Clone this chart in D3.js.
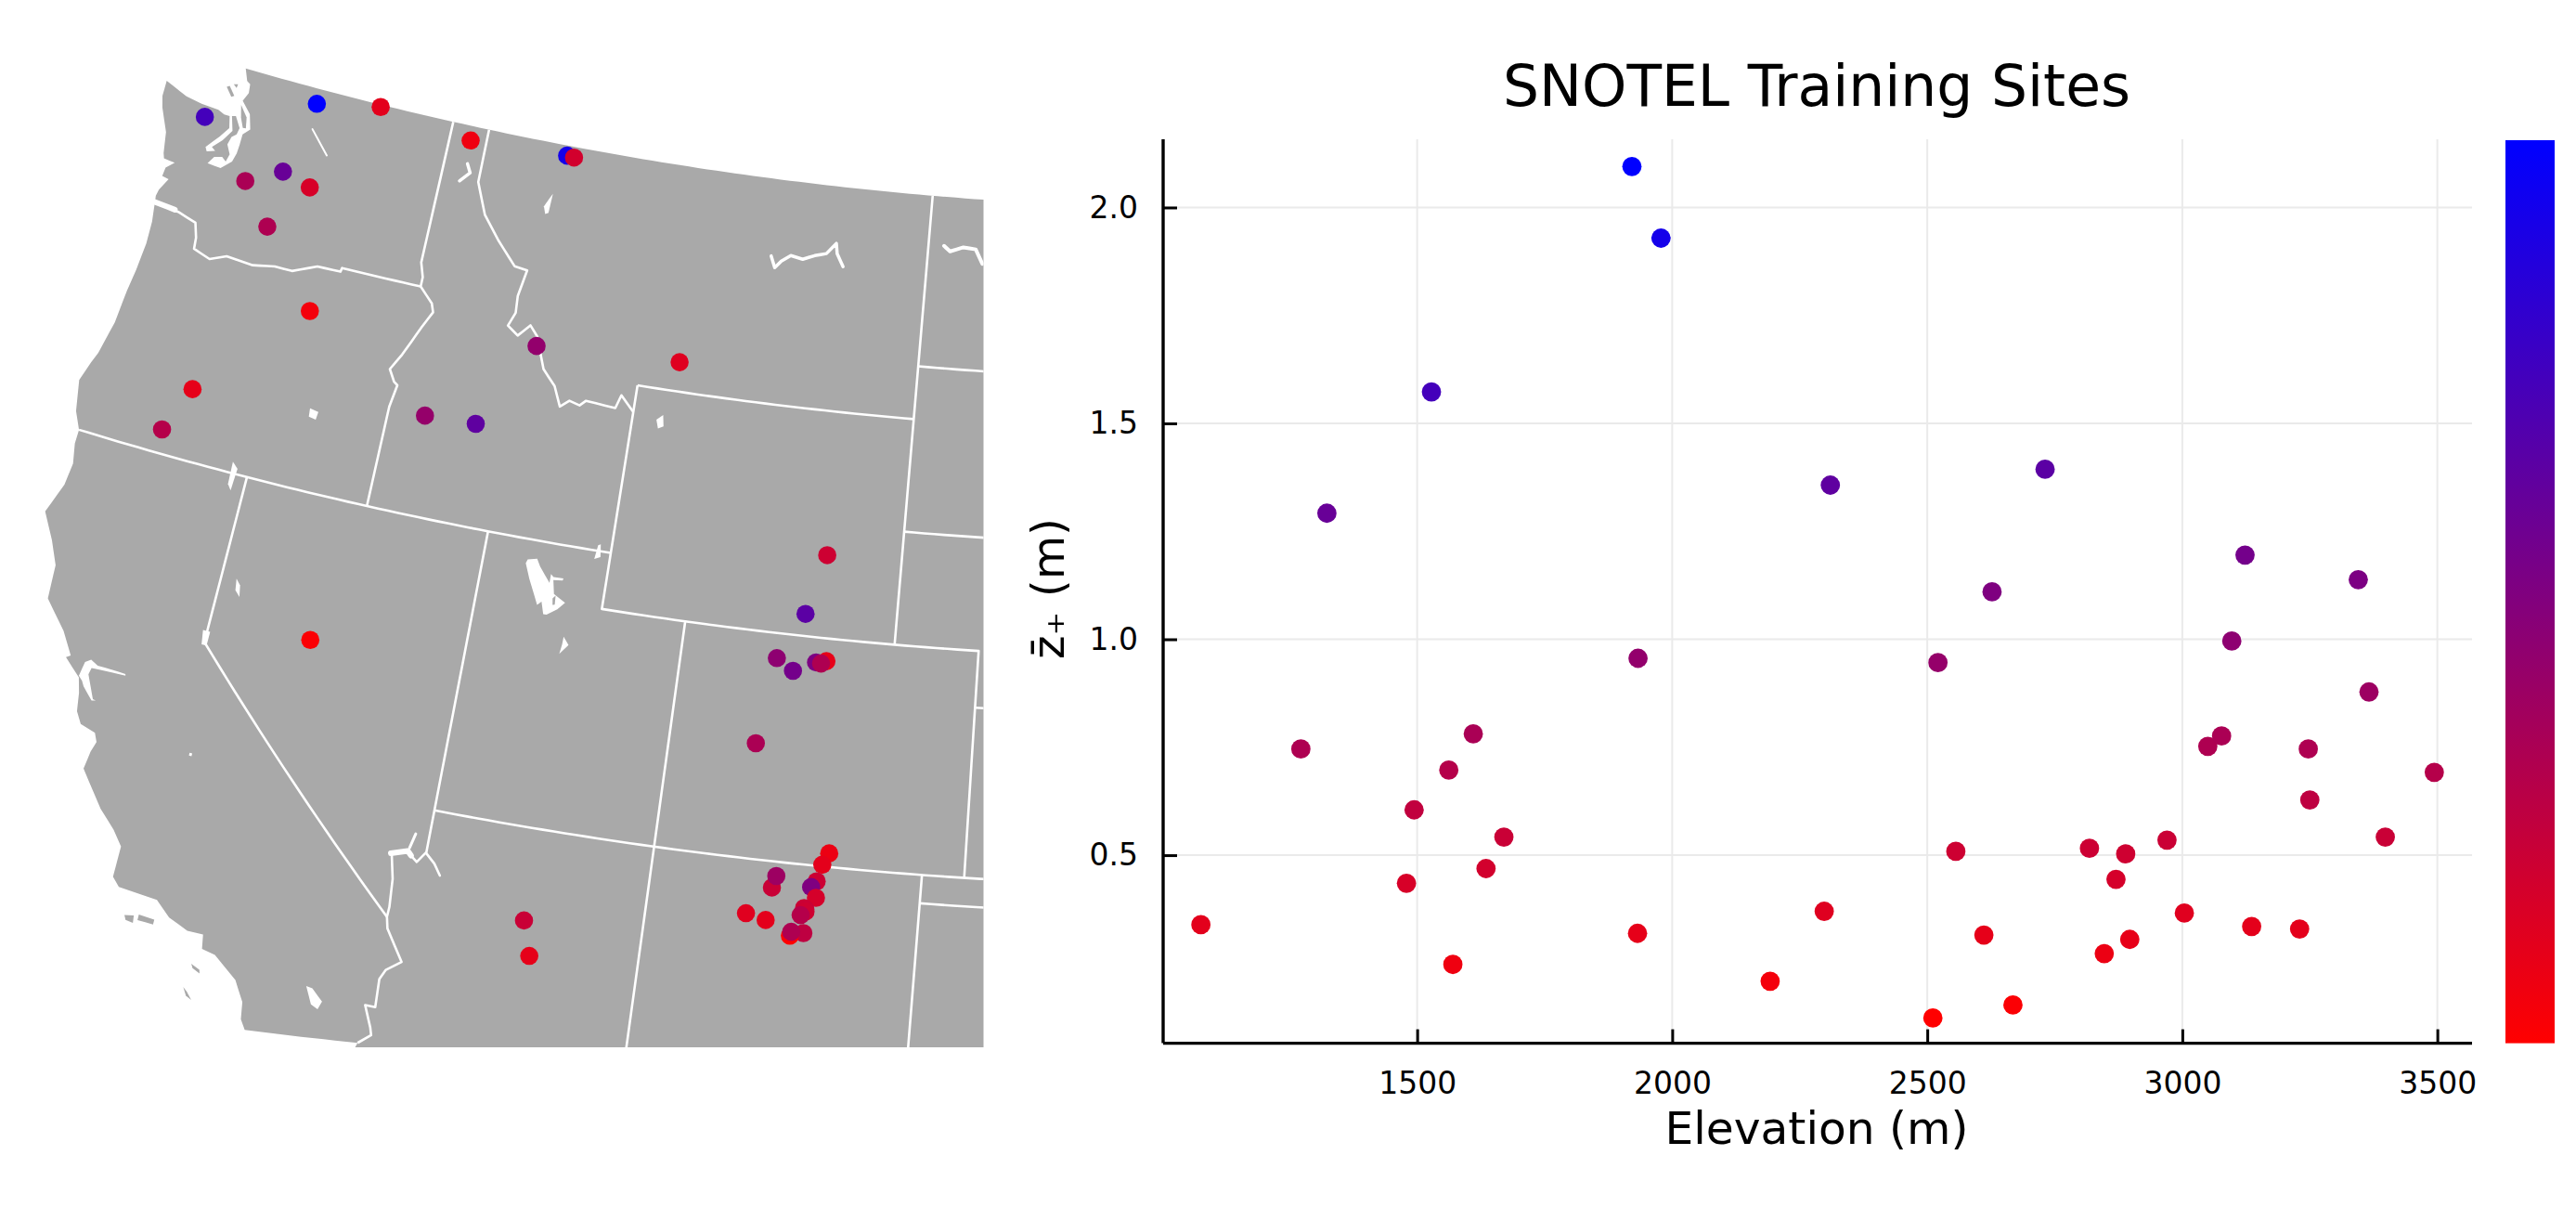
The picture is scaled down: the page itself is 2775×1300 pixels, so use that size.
<!DOCTYPE html>
<html><head><meta charset="utf-8">
<script src="https://cdn.jsdelivr.net/npm/d3@7"></script>
<style>html,body{margin:0;padding:0;background:#fff}svg{display:block}text{font-family:"DejaVu Sans",sans-serif;fill:#000}</style>
</head><body><svg id="c" width="2775" height="1300"></svg>
<script>
// ---- site data (same order in every list) ----
const siteElevation=[1076,1528,1921,1570,1978,1635,1323,1610,1479,1272,2192,1933,2298,1932,1562,2521,2310,2556,2731,2668,3097,3123,2897,3345,3050,3077,1670,2611,2847,3230,3398,3366,2818,2627,2870,3004,3136,1494,2970,2889,3494,3250,2511,3247];
const siteZ=[0.339,1.573,2.095,0.247,1.929,0.469,1.292,0.781,0.435,0.746,0.208,0.956,0.370,0.319,0.697,0.946,1.357,0.509,1.394,0.153,0.996,1.195,0.305,1.138,0.752,0.776,0.542,0.315,0.272,0.329,0.542,0.878,0.516,1.110,0.444,0.366,0.335,0.605,0.535,0.503,0.692,0.628,0.123,0.746];
const siteLon=[-119.01,-123.44,-120.68,-116.47,-113.87,-113.68,-121.08,-121.96,-120.30,-121.10,-119.51,-113.73,-110.09,-121.83,-122.28,-116.12,-114.85,-105.86,-106.23,-117.63,-106.79,-106.38,-105.62,-105.86,-105.74,-107.05,-111.66,-111.42,-105.12,-105.25,-106.32,-106.25,-105.34,-105.45,-105.32,-106.83,-106.38,-105.53,-105.56,-105.52,-105.62,-105.52,-105.81,-105.79];
const siteLat=[48.96,47.96,48.73,48.74,48.82,48.81,47.40,47.06,47.25,46.38,45.12,45.38,45.52,43.25,42.42,43.78,43.82,42.46,41.39,39.48,40.56,40.37,40.60,40.56,40.55,39.03,35.37,34.77,37.24,37.03,36.54,36.75,36.73,36.62,36.44,36.04,35.96,36.22,36.24,36.18,36.11,35.80,35.73,35.80];
const xTicks=[1500,2000,2500,3000,3500];
const yTicks=[0.5,1.0,1.5,2.0];
const chartTitle="SNOTEL Training Sites", xTitle="Elevation (m)", yTitle="z\u0304\u208A (m)";

// ---- geography, lon/lat ----
const coast=[[-122.76,49],[-122.63,48.79],[-122.53,48.75],[-122.50,48.59],[-122.60,48.43],[-122.32,48.23],[-122.20,47.97],[-122.36,47.85],[-122.36,47.66],[-122.37,47.49],[-122.43,47.33],[-122.67,47.16],[-123.03,47.18],[-122.91,47.32],[-122.71,47.36],[-122.59,47.30],[-122.54,47.44],[-122.67,47.60],[-122.62,47.75],[-122.51,47.82],[-122.48,47.94],[-122.66,48.13],[-122.76,48.11],[-122.64,47.86],[-122.82,47.65],[-123.04,47.48],[-122.93,47.43],[-123.14,47.38],[-123.20,47.45],[-122.92,47.70],[-122.74,47.89],[-122.82,48.10],[-122.97,48.10],[-123.15,48.15],[-123.62,48.17],[-124.06,48.22],[-124.68,48.38],[-124.67,48.1],[-124.58,47.9],[-124.30,47.5],[-124.20,47.13],[-124.15,47.04],[-123.85,47.02],[-124.04,46.89],[-124.06,46.73],[-123.88,46.71],[-124.04,46.48],[-124.07,46.36],[-124.05,46.27],[-123.97,45.9],[-123.95,45.5],[-124.0,45.0],[-124.07,44.6],[-124.13,44.0],[-124.3,43.4],[-124.4,43.2],[-124.55,42.84],[-124.4,42.3],[-124.2,42.0],[-124.2,41.75],[-124.1,41.4],[-124.15,41.0],[-124.4,40.45],[-124.05,40.0],[-123.8,39.6],[-123.75,39.0],[-123.19,38.53],[-122.99,38.29],[-122.875,38.15],[-122.97,38.10],[-122.56,37.82],[-122.46,37.56],[-122.39,37.24],[-122.23,37.04],[-121.87,36.96],[-121.78,36.81],[-121.85,36.62],[-121.9,36.3],[-121.3,35.7],[-120.9,35.4],[-120.65,35.15],[-120.65,34.6],[-120.47,34.45],[-119.6,34.4],[-119.25,34.15],[-118.8,34.0],[-118.45,34.0],[-118.4,33.75],[-118.1,33.7],[-117.55,33.35],[-117.3,33.0],[-117.25,32.7],[-117.12,32.53],[-114.72,32.72],[-114.81,32.49],[-111.07,31.33],[-100,29],[-95,29],[-95,49]];
const stateLines=[
 [[-117.03,49],[-117.04,46.42],[-116.92,46.17],[-116.92,46.0],[-116.55,45.75],[-116.47,45.6],[-116.67,45.3],[-116.85,45.0],[-117.0,44.75],[-117.22,44.45],[-117.05,44.25],[-116.95,44.2],[-117.03,43.8],[-117.03,42]],
 [[-116.05,49],[-116.04,48.04],[-115.69,47.49],[-115.22,47.10],[-114.67,46.70],[-114.33,46.67],[-114.44,46.19],[-114.41,45.89],[-114.54,45.64],[-114.25,45.50],[-113.98,45.72],[-113.76,45.55],[-113.45,45.0],[-113.10,44.74],[-112.88,44.40],[-112.67,44.53],[-112.40,44.48],[-112.26,44.58],[-111.51,44.54],[-111.41,44.78],[-111.06,44.53]],
 [[-104.05,49],[-104.05,41]],
 [[-111.05,45],[-104.05,45]],
 [[-111.05,45],[-111.05,41],[-109.05,41],[-109.05,31.33]],
 [[-109.05,41],[-102.05,41],[-102.05,37]],
 [[-104.05,45.94],[-95,45.94]],
 [[-104.05,43],[-95,43]],
 [[-102.05,40],[-95,40]],
 [[-124.2,42],[-111.05,42]],
 [[-114.05,42],[-114.05,36.24]],
 [[-120,42],[-120,39],[-114.63,35.0]],
 [[-114.05,37],[-95,37]],
 [[-103,37],[-103.04,32]],
 [[-103,36.5],[-95,36.5]],
 [[-114.80,36.11],[-114.67,35.675],[-114.62,35.18],[-114.63,35.0],[-114.57,34.8],[-114.13,34.27],[-114.43,34.08],[-114.53,33.9],[-114.5,33.4],[-114.72,33.4],[-114.52,33.03],[-114.47,32.9],[-114.72,32.72]],
 [[-124.05,46.25],[-123.4,46.2],[-122.9,46.1],[-122.78,45.85],[-122.75,45.65],[-122.3,45.55],[-121.9,45.68],[-121.2,45.65],[-120.65,45.73],[-120.2,45.73],[-119.6,45.92],[-119.0,45.93],[-118.98,46.0],[-116.92,46.0]]
];
const waterLines=[
 {w:6,d:[[-124.05,46.25],[-123.5,46.22]]},
 {w:2,d:[[-120.62,48.27],[-120.08,47.88]]},
 {w:3.5,d:[[-116.42,48.32],[-116.30,48.17],[-116.53,47.99]]},
 {w:3.5,d:[[-108.13,47.62],[-108.0,47.42],[-107.85,47.55],[-107.62,47.67],[-107.3,47.63],[-107.0,47.72],[-106.7,47.78],[-106.47,47.98],[-106.42,47.8],[-106.23,47.58]]},
 {w:4,d:[[-103.64,48.12],[-103.47,48.03],[-103.13,48.12],[-102.8,48.1],[-102.6,47.85]]},
 {w:6,d:[[-114.82,36.11],[-114.46,36.21],[-114.37,36.14]]},
 {w:2.6,d:[[-114.37,36.14],[-114.22,36.05],[-114.06,36.24],[-113.83,36.08],[-113.66,35.89]]},
 {w:3,d:[[-114.435,36.27],[-114.36,36.53]]}
];
const lakes=[
 [[-113.02,41.57],[-112.99,41.64],[-112.77,41.685],[-112.67,41.56],[-112.38,41.30],[-112.38,41.46],[-112.31,41.415],[-112.07,41.42],[-112.08,41.38],[-112.30,41.36],[-112.23,41.12],[-111.935,41.00],[-112.09,40.865],[-112.32,40.74],[-112.40,40.74],[-112.49,40.95],[-112.58,40.88],[-112.70,41.06],[-112.87,41.31]],
 [[-111.835,40.41],[-111.69,40.28],[-111.87,40.10],[-111.84,40.27]],
 [[-111.32,42.12],[-111.28,41.9],[-111.42,41.85],[-111.38,42.1]],
 [[-110.3,44.55],[-110.25,44.35],[-110.38,44.3],[-110.45,44.45]],
 [[-114.05,48.1],[-114.07,47.75],[-114.15,47.72],[-114.22,47.85],[-114.12,48.0]],
 [[-120.1,39.2],[-119.93,39.2],[-119.93,38.95],[-120.05,38.95]],
 [[-119.64,40.22],[-119.52,40.12],[-119.47,39.92],[-119.6,40.02]],
 [[-118.92,43.45],[-118.7,43.42],[-118.72,43.28],[-118.9,43.3]],
 [[-120.42,42.2],[-120.27,42.1],[-120.3,41.7],[-120.4,41.8]],
 [[-116.04,33.52],[-115.9,33.5],[-115.64,33.31],[-115.70,33.16],[-115.86,33.22]],
 [[-122.57,37.85],[-122.52,38.11],[-122.40,38.18],[-122.22,38.11],[-121.89,38.11],[-121.56,38.10],[-121.55,38.07],[-121.87,38.06],[-122.16,38.05],[-122.34,38.04],[-122.37,37.92],[-122.12,37.52],[-122.05,37.51],[-122.14,37.49],[-122.40,37.69],[-122.47,37.78]],
 [[-119.7,37.05],[-119.64,37.05],[-119.64,37.0],[-119.7,37.0]]
];
const islands=[
 [[-122.61,48.35],[-122.38,48.16],[-122.32,47.97],[-122.40,47.96],[-122.52,48.13]],
 [[-123.11,48.59],[-123.04,48.62],[-122.85,48.47],[-122.92,48.44]],
 [[-122.95,48.67],[-122.84,48.69],[-122.85,48.62]],
 [[-112.245,41.04],[-112.185,41.10],[-112.17,40.94],[-112.22,40.93]],
 [[-119.9,34.07],[-119.55,34.05],[-119.55,33.96],[-119.9,33.97]],
 [[-120.2,34.0],[-120.0,34.03],[-119.98,33.9],[-120.15,33.92]],
 [[-118.55,33.45],[-118.35,33.38],[-118.33,33.32],[-118.5,33.38]],
 [[-118.6,33.02],[-118.5,32.95],[-118.37,32.83],[-118.5,32.88]]
];

const svg=d3.select("#c");
svg.append("rect").attr("width",2775).attr("height",1300).attr("fill","#fff");
const color=d3.scaleLinear().domain(d3.extent(siteZ)).range(["#ff0000","#0000ff"]);

// ---- map panel ----
const proj=d3.geoAlbers().parallels([29.5,45.5]).rotate([96,0]).center([0,38]).scale(3475).translate([1328.7,893.5]);
function dense(line){const out=[];for(let i=0;i<line.length-1;i++){const [a,b]=[line[i],line[i+1]];const n=Math.max(1,Math.ceil(Math.max(Math.abs(a[0]-b[0]),Math.abs(a[1]-b[1]))/0.25));for(let j=0;j<n;j++)out.push([a[0]+(b[0]-a[0])*j/n,a[1]+(b[1]-a[1])*j/n]);}out.push(line[line.length-1]);return out;}
const geoLine=d3.line().x(p=>proj(p)[0]).y(p=>proj(p)[1]);
svg.append("defs").append("clipPath").attr("id","mapclip").append("rect").attr("x",0).attr("y",0).attr("width",1059.5).attr("height",1128);
const map=svg.append("g").attr("clip-path","url(#mapclip)");
const closed=l=>geoLine(dense(l.concat([l[0]])))+"Z";
map.append("path").attr("d",closed(coast)).attr("fill","#a9a9a9");
map.selectAll(".lake").data(lakes).join("path").attr("d",closed).attr("fill","#fff");
map.selectAll(".isl").data(islands).join("path").attr("d",closed).attr("fill","#a9a9a9");
map.selectAll(".state").data(stateLines).join("path").attr("d",l=>geoLine(dense(l))).attr("fill","none").attr("stroke","#fff").attr("stroke-width",2.6).attr("stroke-linejoin","round");
map.selectAll(".water").data(waterLines).join("path").attr("d",l=>geoLine(dense(l.d))).attr("fill","none").attr("stroke","#fff").attr("stroke-width",l=>l.w).attr("stroke-linejoin","round").attr("stroke-linecap","round");
svg.append("g").selectAll("circle").data(siteZ.map((z,i)=>({z,p:proj([siteLon[i],siteLat[i]])}))).join("circle")
 .attr("cx",d=>d.p[0]).attr("cy",d=>d.p[1]).attr("r",9.8).attr("fill",d=>color(d.z));

// ---- scatter panel ----
const L=1253,R=2663,T=150,B=1123.6;
const x=d3.scaleLinear().domain([1002,3568]).range([L,R]);
const y=d3.scaleLinear().domain([0.0645,2.158]).range([B,T]);
const gridCol="#eaeaea";
svg.append("g").selectAll("line").data(xTicks).join("line").attr("x1",x).attr("x2",x).attr("y1",T).attr("y2",B).attr("stroke",gridCol).attr("stroke-width",2);
svg.append("g").selectAll("line").data(yTicks).join("line").attr("y1",y).attr("y2",y).attr("x1",L).attr("x2",R).attr("stroke",gridCol).attr("stroke-width",2);
const gx=svg.append("g").attr("transform",`translate(0,${B})`).call(d3.axisBottom(x).tickValues(xTicks).tickFormat(d3.format("d")).tickSize(-15).tickPadding(31));
const gy=svg.append("g").attr("transform",`translate(${L},0)`).call(d3.axisLeft(y).tickValues(yTicks).tickFormat(d3.format(".1f")).tickSize(-15).tickPadding(27));
[gx,gy].forEach(g=>{g.selectAll("text").attr("font-family","DejaVu Sans").attr("font-size",33).attr("fill","#000");
 g.selectAll("line").attr("stroke","#000").attr("stroke-width",3);g.select(".domain").attr("stroke","#000").attr("stroke-width",3.4);});
gx.select(".domain").attr("d",`M${L},0H${R}`);
gy.select(".domain").attr("d",`M0,${T}V${B}`);
gx.selectAll(".tick text").attr("dy","0.71em");
svg.append("g").selectAll("circle").data(siteZ.map((z,i)=>({z,e:siteElevation[i]}))).join("circle")
 .attr("cx",d=>x(d.e)).attr("cy",d=>y(d.z)).attr("r",10.4).attr("fill",d=>color(d.z));
svg.append("text").attr("x",1957).attr("y",114).attr("text-anchor","middle").attr("font-size",61.5).text(chartTitle);
svg.append("text").attr("x",1957).attr("y",1232).attr("text-anchor","middle").attr("font-size",48.7).text(xTitle);
svg.append("text").attr("transform","translate(1146,634) rotate(-90)").attr("text-anchor","middle").attr("font-size",48.7).text(yTitle);

// ---- colour bar ----
const grad=svg.select("defs").append("linearGradient").attr("id","cb").attr("x1",0).attr("x2",0).attr("y1",1).attr("y2",0);
color.domain().forEach((v,i)=>grad.append("stop").attr("offset",i).attr("stop-color",color(v)));
svg.append("rect").attr("x",2699).attr("y",T+1).attr("width",53).attr("height",B-T-1).attr("fill","url(#cb)");
</script></body></html>
